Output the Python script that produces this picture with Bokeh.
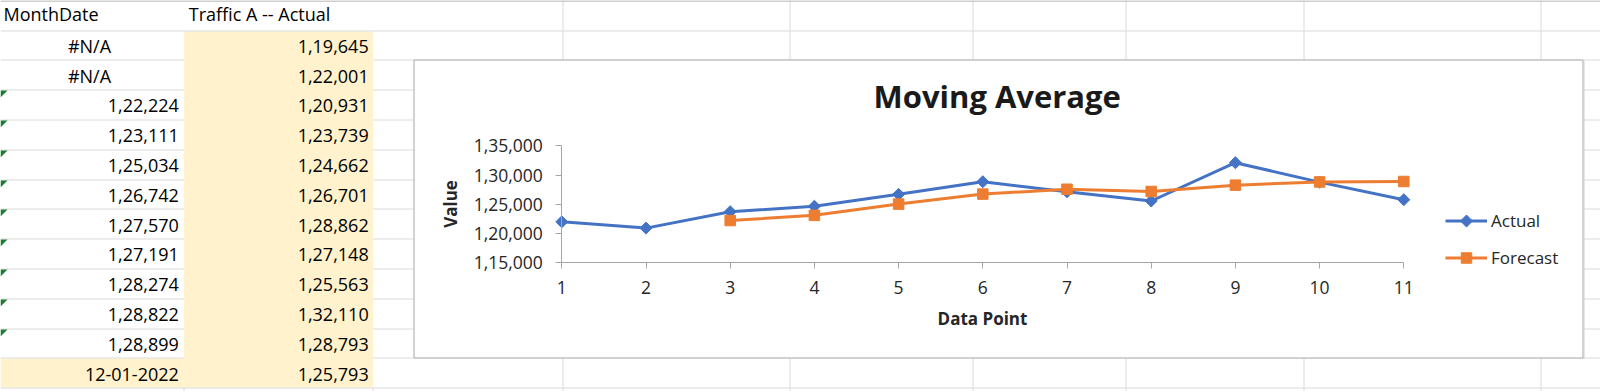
import math
import numpy as np
from bokeh.plotting import figure
from bokeh.models import (Range1d, ColumnDataSource, FixedTicker, Legend, LegendItem,
                          LinearAxis, Label)
from bokeh.core.properties import value
from bokeh.embed import file_html
from bokeh.resources import INLINE

# ---------------- data ----------------
header_labels = ["MonthDate", "Traffic A -- Actual"]
month_date = ["#N/A", "#N/A", 122224, 123111, 125034, 126742, 127570, 127191,
              128274, 128822, 128899, "12-01-2022"]
traffic_a_actual = [119645, 122001, 120931, 123739, 124662, 126701, 128862,
                    127148, 125563, 132110, 128793, 125793]

data_point = [1, 2, 3, 4, 5, 6, 7, 8, 9, 10, 11]
actual = [122001, 120931, 123739, 124662, 126701, 128862, 127148, 125563,
          132110, 128793, 125793]
forecast = [None, None, 122224, 123111, 125034, 126742, 127570, 127191,
            128274, 128822, 128899]
y_ticks = [115000, 120000, 125000, 130000, 135000]
chart_title = "Moving Average"
x_title = "Data Point"
y_title = "Value"
series_names = ["Actual", "Forecast"]

# ---------------- styling / layout constants ----------------
BLUE = "#4472C4"
ORANGE = "#ED7D31"
YELLOW = "#FFF2CC"
GRID = "#DADADA"
BORDER = "#A6A6A6"
AXIS = "#A6A6A6"
TXT = "#262626"
FONT = "Open Sans"
CELL_FS = 18.0
BASE_FIX = 0.42  # em offset of the rendered alphabetic baseline

PAGE_W, PAGE_H = 1600, 391
ROW_TOP = 30.0
ROW_H = 29.8
N_ROWS = 12
COL_A = (0.0, 183.3)
COL_B = (183.3, 372.7)
V_LINES = [562.3, 789.5, 972.7, 1125.3, 1303.7, 1540.7]
CHART = (413, 59, 1583, 358)  # left, top, right, bottom (page px)

# chart plot-area mapping (page px)
X1_PX, PX_PER_X = 561.3, 84.2          # where data point 1 sits, px per data point
Y0_PX, PX_PER_Y = 262.3, 58.5 / 10000  # where 1,15,000 sits, px per unit

# legend geometry (page px)
LEG_X, LEG_TOP, LEG_ITEM_H, LEG_SPACING, LEG_GLYPH_W = 1445, 209, 23, 14, 42


def indian(n):
    s = str(int(n))
    if len(s) <= 3:
        return s
    last3, rest = s[-3:], s[:-3]
    groups = []
    while len(rest) > 2:
        groups.insert(0, rest[-2:])
        rest = rest[:-2]
    if rest:
        groups.insert(0, rest)
    return ",".join(groups + [last3])


def row_line(k):
    return math.floor(ROW_TOP + k * ROW_H) + 0.5


p = figure(width=PAGE_W, height=PAGE_H,
           x_range=Range1d(0, PAGE_W), y_range=Range1d(PAGE_H, 0),
           output_backend="svg", toolbar_location=None, min_border=0,
           x_axis_type=None, y_axis_type=None)
p.outline_line_color = None
p.background_fill_color = "white"
p.border_fill_color = "white"

# ---------------- spreadsheet ----------------
p.quad(left=[COL_B[0], COL_A[0]], right=[COL_B[1], COL_B[0]],
       top=[row_line(0) + 0.5, row_line(N_ROWS - 1) + 0.5],
       bottom=[row_line(N_ROWS) - 0.5, row_line(N_ROWS) - 0.5],
       fill_color=YELLOW, line_color=None)
x0s, x1s, ys = [0, 0], [PAGE_W, PAGE_W], [row_line(0), row_line(N_ROWS)]
for k in range(1, N_ROWS):
    x0s.append(COL_A[0]); x1s.append(COL_A[1]); ys.append(row_line(k))
    x0s.append(COL_B[1]); x1s.append(PAGE_W); ys.append(row_line(k))
p.segment(x0=x0s, y0=ys, x1=x1s, y1=ys, line_color=GRID, line_width=1)
vx = [math.floor(v) + 0.5 for v in V_LINES]
p.segment(x0=vx, y0=[0] * len(vx), x1=vx, y1=[PAGE_H] * len(vx),
          line_color=GRID, line_width=1)
bx = [math.floor(COL_A[1]) + 0.5, math.floor(COL_B[1]) + 0.5]
p.segment(x0=bx, y0=[row_line(N_ROWS)] * 2, x1=bx, y1=[PAGE_H] * 2,
          line_color=GRID, line_width=1)
# sheet top edge
p.segment(x0=[0], y0=[0.5], x1=[PAGE_W], y1=[0.5], line_color="#9E9E9E", line_width=1)

# "number stored as text" indicators
tri_xs, tri_ys = [], []
for r, v in enumerate(month_date):
    if isinstance(v, int):
        t = row_line(r) + 0.5
        tri_xs.append([0, 7, 0]); tri_ys.append([t, t, t + 7])
p.patches(tri_xs, tri_ys, fill_color="#1E7B34", line_color=None)

fix = BASE_FIX * CELL_FS
common = dict(text_font=value(FONT), text_font_size=value(f"{CELL_FS}px"),
              text_color="#000000", text_baseline="alphabetic")
p.text(x=[3, COL_B[0] + 5], y=[21.5 - fix, 21.5 - fix], text=header_labels,
       text_align="left", **common)
ra_x, ra_y, ra_t, c_x, c_y, c_t = [], [], [], [], [], []
for r in range(N_ROWS):
    base = ROW_TOP + (r + 1) * ROW_H - 6.5 - fix
    v = month_date[r]
    if isinstance(v, str) and v.startswith("#"):
        c_x.append(89); c_y.append(base); c_t.append(v)
    else:
        ra_x.append(COL_A[1] - 5); ra_y.append(base)
        ra_t.append(v if isinstance(v, str) else indian(v))
    ra_x.append(COL_B[1] - 4.5); ra_y.append(base); ra_t.append(indian(traffic_a_actual[r]))
p.text(x=ra_x, y=ra_y, text=ra_t, text_align="right", **common)
p.text(x=c_x, y=c_y, text=c_t, text_align="center", **common)

# chart area box + border
L, T, R, B = CHART
p.quad(left=[L], right=[R], top=[T], bottom=[B], fill_color="white", line_color=None)
p.segment(x0=[L + 0.5, L + 0.5, L + 0.5, R - 0.5],
          y0=[T + 0.5, B - 0.5, T + 0.5, T + 0.5],
          x1=[R - 0.5, R - 0.5, L + 0.5, R - 0.5],
          y1=[T + 0.5, B - 0.5, B - 0.5, B - 0.5],
          line_color=BORDER, line_width=1)
p.segment(x0=[R + 0.5], y0=[T + 1.5], x1=[R + 0.5], y1=[B + 0.5],
          line_color="#D0D0D0", line_width=1)

# ---------------- chart (own ranges) ----------------
cx0 = data_point[0] - X1_PX / PX_PER_X
cx1 = cx0 + PAGE_W / PX_PER_X
cy0 = y_ticks[0] - (PAGE_H - Y0_PX) / PX_PER_Y
cy1 = cy0 + PAGE_H / PX_PER_Y
p.extra_x_ranges = {"cx": Range1d(cx0, cx1)}
p.extra_y_ranges = {"cy": Range1d(cy0, cy1)}

xa = LinearAxis(x_range_name="cx", y_range_name="cy", fixed_location=y_ticks[0],
                bounds=(data_point[0], data_point[-1]),
                ticker=FixedTicker(ticks=data_point), axis_label=x_title,
                major_label_standoff=12, axis_label_standoff=10)
ya = LinearAxis(x_range_name="cx", y_range_name="cy", fixed_location=data_point[0],
                bounds=(y_ticks[0], y_ticks[-1]),
                ticker=FixedTicker(ticks=y_ticks), axis_label=y_title,
                major_label_overrides={t: indian(t) for t in y_ticks},
                major_label_standoff=13, axis_label_standoff=8)
for ax in (xa, ya):
    ax.axis_line_color = AXIS
    ax.major_tick_line_color = AXIS
    ax.minor_tick_line_color = None
    ax.major_tick_in = 0
    ax.major_tick_out = 6
    ax.major_label_text_font = FONT
    ax.major_label_text_font_size = "17.5px"
    ax.major_label_text_color = TXT
    ax.axis_label_text_font = FONT
    ax.axis_label_text_font_size = "17px"
    ax.axis_label_text_font_style = "bold"
    ax.axis_label_text_color = TXT
p.add_layout(xa, "below")
p.add_layout(ya, "left")

src = ColumnDataSource(dict(x=data_point, actual=actual,
                            forecast=np.array(forecast, dtype=float)))
rkw = dict(source=src, x_range_name="cx", y_range_name="cy")
DIAMOND = dict(marker="square", angle=math.pi / 4, size=8.5,
               fill_color=BLUE, line_color=BLUE, line_width=1)
SQUARE = dict(marker="square", size=10.5, fill_color=ORANGE, line_color=ORANGE, line_width=1)
l1 = p.line("x", "actual", line_color=BLUE, line_width=3, line_join="round", **rkw)
m1 = p.scatter("x", "actual", **DIAMOND, **rkw)
l2 = p.line("x", "forecast", line_color=ORANGE, line_width=3, line_join="round", **rkw)
m2 = p.scatter("x", "forecast", **SQUARE, **rkw)

TITLE_FS = 31
p.add_layout(Label(x=996.7, y=108.3 - 0.4 * TITLE_FS, text=chart_title, text_align="center",
                   text_baseline="alphabetic", text_font=FONT,
                   text_font_size=f"{TITLE_FS}px",
                   text_font_style="bold", text_color="#1A1A1A"))

leg_bottom = LEG_TOP + 2 * LEG_ITEM_H + LEG_SPACING
legend = Legend(items=[LegendItem(label=series_names[0], renderers=[l1]),
                       LegendItem(label=series_names[1], renderers=[l2])],
                location=(LEG_X, PAGE_H - leg_bottom),
                glyph_width=LEG_GLYPH_W, glyph_height=LEG_ITEM_H, label_height=LEG_ITEM_H,
                label_standoff=4, spacing=LEG_SPACING, padding=0, margin=0,
                border_line_color=None, background_fill_alpha=0, label_text_font=FONT,
                label_text_font_size="17px", label_text_color=TXT)
p.add_layout(legend)
# legend symbols (Excel diamond / square markers on the legend lines)
leg_cx = LEG_X + LEG_GLYPH_W / 2
leg_cy = [LEG_TOP + LEG_ITEM_H / 2, LEG_TOP + LEG_ITEM_H * 1.5 + LEG_SPACING]
p.scatter(x=[leg_cx], y=[leg_cy[0]], level="overlay", **DIAMOND)
p.scatter(x=[leg_cx], y=[leg_cy[1]], level="overlay", **SQUARE)

open("out.html", "w").write(file_html(p, INLINE))
